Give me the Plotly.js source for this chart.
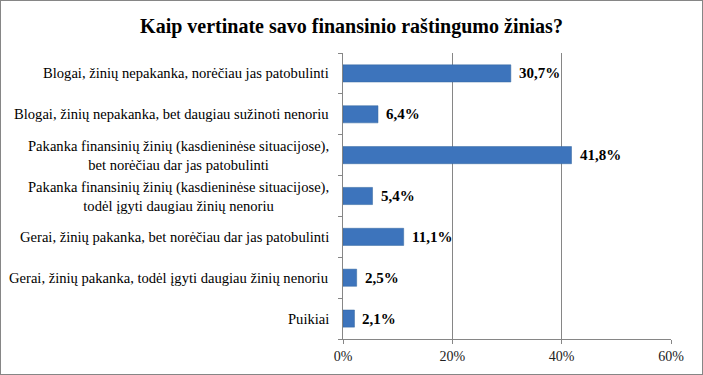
<!DOCTYPE html>
<html><head><meta charset="utf-8">
<script src="https://cdn.plot.ly/plotly-3.0.1.min.js"></script>
<style>
html,body{margin:0;padding:0;background:#fff;}
#wrap{width:703px;height:375px;box-sizing:border-box;border:1px solid #868686;position:relative;overflow:hidden;}
#chart{position:absolute;left:-1px;top:-1px;width:703px;height:375px;}
</style></head>
<body><div id="wrap"><div id="chart"></div></div>
<script>
const categories = [
  "Blogai, žinių nepakanka, norėčiau jas patobulinti",
  "Blogai, žinių nepakanka, bet daugiau sužinoti nenoriu",
  "Pakanka finansinių žinių (kasdieninėse situacijose),<br>bet norėčiau dar jas patobulinti",
  "Pakanka finansinių žinių (kasdieninėse situacijose),<br>todėl įgyti daugiau žinių nenoriu",
  "Gerai, žinių pakanka, bet norėčiau dar jas patobulinti",
  "Gerai, žinių pakanka, todėl įgyti daugiau žinių nenoriu",
  "Puikiai"
];
const values = [30.7, 6.4, 41.8, 5.4, 11.1, 2.5, 2.1];
const valueLabels = ["30,7%", "6,4%", "41,8%", "5,4%", "11,1%", "2,5%", "2,1%"];
const xTickVals = [0, 20, 40, 60];
const xTickText = ["0%", "20%", "40%", "60%"];
const titleText = "Kaip vertinate savo finansinio raštingumo žinias?";

const serif = "Liberation Serif";

const annotations = [];
categories.forEach((c, i) => {
  annotations.push({
    xref: 'paper', yref: 'y', x: 0, y: i, text: c,
    xanchor: 'right', yanchor: 'middle', align: 'center', xshift: -12,
    showarrow: false, font: {family: serif, size: 14.6, color: '#000'}
  });
  annotations.push({
    xref: 'x', yref: 'y', x: values[i], y: i, text: '<b>' + valueLabels[i] + '</b>',
    xanchor: 'left', yanchor: 'middle', xshift: 6,
    showarrow: false, font: {family: serif, size: 15, color: '#000'}
  });
});

Plotly.newPlot('chart', [{
  type: 'bar', orientation: 'h',
  y: categories.map((c, i) => i), x: values,
  width: 0.42,
  marker: {color: '#3D74BC', line: {color: '#35679f', width: 0.5}},
  hoverinfo: 'none'
}], {
  width: 703, height: 375,
  margin: {l: 343, r: 32, t: 53, b: 36, pad: 0},
  paper_bgcolor: '#fff', plot_bgcolor: '#fff',
  showlegend: false,
  font: {family: serif},
  title: {text: '<b>' + titleText + '</b>', x: 0.5, xanchor: 'center', y: 0.93, yanchor: 'middle',
          font: {family: serif, size: 20, color: '#000'}},
  xaxis: {
    range: [0, 60], tickvals: xTickVals, ticktext: xTickText,
    showgrid: true, gridcolor: '#868686', gridwidth: 1,
    showline: true, linecolor: '#868686', linewidth: 1,
    ticks: 'outside', ticklen: 4, tickcolor: '#868686',
    zeroline: false,
    tickfont: {family: serif, size: 14, color: '#222'}
  },
  yaxis: {
    range: [6.5, -0.5], tickvals: [-0.5, 0.5, 1.5, 2.5, 3.5, 4.5, 5.5, 6.5],
    showticklabels: false,
    showline: true, linecolor: '#868686', linewidth: 1,
    ticks: 'outside', ticklen: 4, tickcolor: '#868686',
    showgrid: false, zeroline: false
  },
  annotations: annotations
}, {staticPlot: true});
</script></body></html>
